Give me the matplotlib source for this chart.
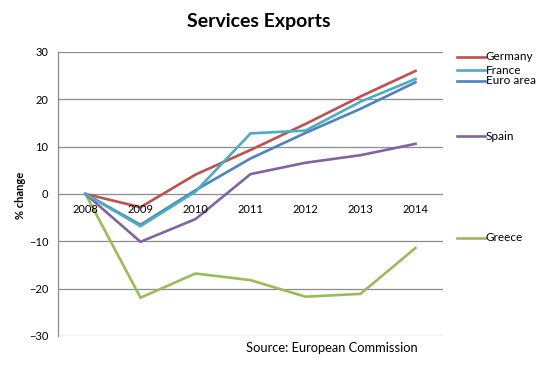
import matplotlib
matplotlib.use("Agg")
import matplotlib.pyplot as plt
from matplotlib.lines import Line2D

years = ["2008", "2009", "2010", "2011", "2012", "2013", "2014"]
germany = [0, -2.8, 4.1, 9.3, 14.8, 20.6, 26.0]
france = [0, -6.8, 0.5, 12.8, 13.4, 19.5, 24.3]
euro_area = [0, -6.5, 0.8, 7.5, 12.9, 18.0, 23.6]
spain = [0, -10.1, -5.3, 4.2, 6.6, 8.2, 10.6]
greece = [0, -21.9, -16.8, -18.2, -21.7, -21.1, -11.4]

series = [
    ("Greece", greece, "#9BBB59"),
    ("Spain", spain, "#8064A2"),
    ("Euro area", euro_area, "#4F81BD"),
    ("Germany", germany, "#C0504D"),
    ("France", france, "#4BACC6"),
]

FONT = "Lato"
W, H = 553, 369
fig = plt.figure(figsize=(W / 100, H / 100), dpi=100)
ax = fig.add_axes([58 / W, 1 - 336 / H, (443 - 58) / W, (336 - 52) / H])

x = list(range(len(years)))
for name, vals, col in series:
    ax.plot(x, vals, color=col, lw=1.9, solid_joinstyle="miter")

ax.set_xlim(-0.5, len(years) - 0.5)
ax.set_ylim(-30, 30)
ax.set_yticks(range(-30, 31, 10))
ax.yaxis.grid(True, color="#8C8C8C", lw=0.9)
ax.set_axisbelow(True)
for s in ["top", "right", "bottom"]:
    ax.spines[s].set_visible(False)
ax.spines["left"].set_color("#8C8C8C")
ax.spines["left"].set_linewidth(0.9)
ax.tick_params(axis="y", length=0, pad=7, labelsize=8, labelcolor="#000000")
ax.set_xticks(x)
ax.set_xticklabels([])
ax.tick_params(axis="x", length=0)
for xi, lab in zip(x, years):
    ax.text(xi, -3.3, lab, ha="center", va="center", fontsize=8, family=FONT)
for lab in ax.get_yticklabels():
    lab.set_family(FONT)

fig.text(259 / W, 1 - 22 / H, "Services Exports", ha="center", va="center",
         fontsize=14, fontweight="bold", family=FONT)
fig.text(21 / W, 1 - 195 / H, "% change", ha="center", va="center", rotation=90,
         fontsize=8, fontweight="bold", family=FONT)
fig.text(246 / W, 1 - 348 / H, "Source: European Commission", ha="left", va="center",
         fontsize=9.3, family=FONT)

legend_pos = {"Germany": 57, "France": 70, "Euro area": 81, "Spain": 136, "Greece": 238}
for name, vals, col in series:
    yy = 1 - legend_pos[name] / H
    fig.add_artist(Line2D([457 / W, 485 / W], [yy, yy], color=col, lw=1.9,
                          transform=fig.transFigure))
    fig.text(486 / W, yy, name, ha="left", va="center", fontsize=8.5,
             family=FONT)

fig.savefig("out.png", dpi=100)
